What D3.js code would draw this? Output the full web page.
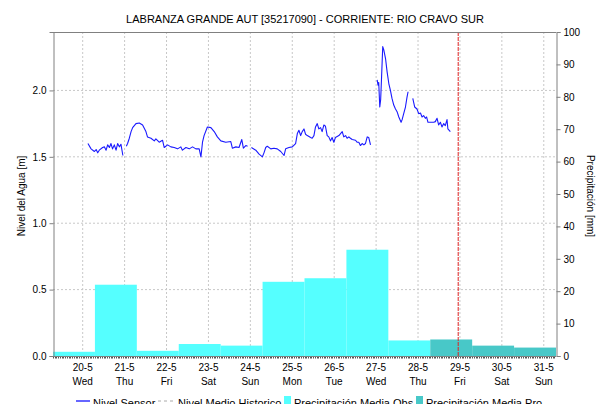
<!DOCTYPE html>
<html>
<head>
<meta charset="utf-8">
<script src="https://cdn.jsdelivr.net/npm/d3@7/dist/d3.min.js"></script>
<style>
  body { margin: 0; background: #fff; }
  svg { display: block; }
  text { font-family: "Liberation Sans", Arial, sans-serif; fill: #000; }
</style>
</head>
<body>
<svg id="chart" width="615" height="404"></svg>
<script>
// ---- data ----
const title = "LABRANZA GRANDE AUT [35217090] - CORRIENTE: RIO CRAVO SUR";
const dayDates = ["2020-05-20", "2020-05-21", "2020-05-22", "2020-05-23", "2020-05-24", "2020-05-25",
                  "2020-05-26", "2020-05-27", "2020-05-28", "2020-05-29", "2020-05-30", "2020-05-31"];
const dayLabels = ["20-5", "21-5", "22-5", "23-5", "24-5", "25-5", "26-5", "27-5", "28-5", "29-5", "30-5", "31-5"];
const weekdayLabels = ["Wed", "Thu", "Fri", "Sat", "Sun", "Mon", "Tue", "Wed", "Thu", "Fri", "Sat", "Sun"];
const levelTicks = [0, 0.5, 1.0, 1.5, 2.0];
const precipTicks = [0, 10, 20, 30, 40, 50, 60, 70, 80, 90, 100];

// daily precipitation (mm), hydrological day ending 07:00 of each date
const precipObs = [1.3, 22.0, 1.6, 3.7, 3.2, 22.9, 24.0, 32.8, 4.8, null, null, null];
const precipPro = [null, null, null, null, null, null, null, null, null, 5.1, 3.2, 2.6];

// sensor water level (m); hours counted from sensorStart, null marks a gap
const sensorStart = "2020-05-20T00:00";
const sensorHours = [
  3.0, 4.8, 6.7, 7.7, 8.6, 9.5, 11.4, 12.4, 13.4, 14.3, 15.3, 16.2, 17.1, 18.1, 19.1, 20.0, 21.0, 21.9, 23.0,
  24.0,
  25.0, 25.7, 26.7, 27.7, 28.6, 30.5, 32.4, 34.3, 36.2, 37.1, 39.1, 41.0, 41.9, 43.8, 45.7, 46.7, 48.6, 50.5,
  52.4, 54.3, 56.2, 57.1, 59.1, 61.0, 62.9, 64.8, 66.7, 67.7, 68.6, 69.5, 71.4, 73.4, 75.3, 77.1, 79.1, 81.9,
  84.8, 85.7, 87.7, 89.5, 91.1, 92.0, 93.4, 94.4,
  95.5,
  96.6, 99.1, 101.0, 102.9, 103.8, 104.8, 105.7, 107.7, 109.5, 111.4, 113.4, 115.3, 116.2, 118.1, 120.0, 121.9,
  122.9, 123.8, 124.8, 125.7, 126.7, 127.6, 128.6, 130.5, 131.4, 132.4, 133.3, 134.3, 135.2, 136.2, 137.1, 138.1,
  139.0, 140.0, 140.9, 141.9, 142.8, 143.8, 144.7, 146.7, 148.6, 149.5, 150.5, 151.4, 152.4, 153.3, 154.3, 156.2,
  157.1, 158.1, 159.0, 160.0, 161.0, 161.9, 162.9, 163.8, 164.8,
  168.0,
  168.6, 169.1, 169.5, 170.1, 170.6, 171.1, 171.8, 172.4, 173.4, 174.3, 175.3, 176.2, 177.1, 178.1, 179.1, 180.0,
  181.0, 182.3, 182.9, 183.8, 184.8, 185.7, 186.3,
  187.5,
  189.0, 190.1, 191.4, 192.4, 193.4, 194.3, 195.2, 196.2, 196.9, 197.7, 199.1, 201.0, 201.9, 202.9, 203.8, 204.8,
  205.7, 206.7, 207.6, 208.6, 209.1, 210.5
];
const sensorLevel = [
  1.60, 1.56, 1.54, 1.555, 1.53, 1.55, 1.57, 1.575, 1.55, 1.59, 1.57, 1.60, 1.56, 1.59, 1.55, 1.60, 1.575, 1.595, 1.51,
  null,
  1.58, 1.60, 1.64, 1.69, 1.72, 1.75, 1.755, 1.74, 1.69, 1.65, 1.64, 1.62, 1.635, 1.61, 1.625, 1.57, 1.59, 1.575,
  1.57, 1.56, 1.575, 1.55, 1.57, 1.56, 1.575, 1.56, 1.56, 1.50, 1.61, 1.66, 1.725, 1.72, 1.69, 1.65, 1.62, 1.61,
  1.615, 1.565, 1.575, 1.57, 1.63, 1.565, 1.585, 1.58,
  null,
  1.57, 1.55, 1.52, 1.50, 1.53, 1.57, 1.58, 1.56, 1.565, 1.56, 1.54, 1.51, 1.56, 1.57, 1.575, 1.60,
  1.675, 1.70, 1.66, 1.69, 1.71, 1.67, 1.66, 1.645, 1.64, 1.66, 1.725, 1.75, 1.71, 1.72, 1.69, 1.74,
  1.73, 1.66, 1.65, 1.62, 1.645, 1.61, 1.645, 1.66, 1.69, 1.65, 1.66, 1.64, 1.65, 1.64, 1.63, 1.625,
  1.61, 1.61, 1.585, 1.60, 1.59, 1.60, 1.65, 1.645, 1.59,
  null,
  2.08, 2.04, 2.06, 1.875, 1.93, 2.09, 2.33, 2.305, 2.24, 2.14, 2.05, 2.00, 1.94, 1.89, 1.86, 1.84,
  1.80, 1.76, 1.78, 1.825, 1.875, 1.95, 1.99,
  null,
  1.94, 1.875, 1.86, 1.825, 1.83, 1.80, 1.81, 1.79, 1.80, 1.76, 1.76, 1.76, 1.765, 1.79, 1.74, 1.76,
  1.725, 1.75, 1.735, 1.78, 1.71, 1.69
];
const historicLevel = [];          // no historic mean available for this period
const nowMark = "2020-05-28T23:00";
const xStart = "2020-05-19T07:00";
const xEnd = "2020-05-31T07:00";

// ---- layout ----
const W = 615, H = 404;
const plot = { left: 53, right: 556, top: 32, bottom: 356 };
const parse = d3.timeParse("%Y-%m-%dT%H:%M");
const parseDay = d3.timeParse("%Y-%m-%d");
const t0 = parse(sensorStart);

const x = d3.scaleTime().domain([parse(xStart), parse(xEnd)]).range([plot.left, plot.right]);
const yLevel = d3.scaleLinear().domain([0, 2.44]).range([plot.bottom, plot.top]);
const yPrecip = d3.scaleLinear().domain([0, 100]).range([plot.bottom, plot.top]);

const svg = d3.select("#chart");
const gridColor = "#c8c8c8";
const axisColor = "#808080";

// title
svg.append("text").attr("x", 305).attr("y", 23).attr("text-anchor", "middle")
  .style("font-size", "11px").text(title);

// grid lines
const days = dayDates.map(parseDay);
const grid = svg.append("g");
grid.selectAll("line.v").data(days).join("line")
  .attr("x1", d => x(d)).attr("x2", d => x(d))
  .attr("y1", plot.top).attr("y2", plot.bottom)
  .attr("stroke", gridColor).attr("stroke-dasharray", "2,2");
grid.selectAll("line.h").data(levelTicks.filter(d => d > 0)).join("line")
  .attr("x1", plot.left).attr("x2", plot.right)
  .attr("y1", d => yLevel(d)).attr("y2", d => yLevel(d))
  .attr("stroke", gridColor).attr("stroke-dasharray", "2,2");

// precipitation bars (07:00 previous day -> 07:00 of the date)
const barSpan = d => {
  const end = d3.timeHour.offset(parseDay(d), 7);
  return [d3.timeDay.offset(end, -1), end];
};
const bars = svg.append("g");
function drawBars(values, color) {
  const rows = dayDates.map((d, i) => ({ d, v: values[i] })).filter(r => r.v != null);
  bars.selectAll(null).data(rows).join("rect")
    .attr("x", r => x(barSpan(r.d)[0]))
    .attr("width", r => x(barSpan(r.d)[1]) - x(barSpan(r.d)[0]))
    .attr("y", r => yPrecip(r.v))
    .attr("height", r => yPrecip(0) - yPrecip(r.v))
    .attr("fill", color);
}
drawBars(precipObs, "#55ffff");
drawBars(precipPro, "#48c8c8");

// sensor level line
const sensor = sensorHours.map((h, i) => ({ t: d3.timeMinute.offset(t0, Math.round(h * 60)), v: sensorLevel[i] }));
const line = d3.line().defined(d => d.v != null).x(d => x(d.t)).y(d => yLevel(d.v));
svg.append("path").datum(sensor).attr("d", line)
  .attr("fill", "none").attr("stroke", "#1a1aff").attr("stroke-width", 1.1).attr("stroke-linejoin", "round");

// historic mean level (dashed grey)
svg.append("path").datum(historicLevel).attr("d", line)
  .attr("fill", "none").attr("stroke", "#aaaaaa").attr("stroke-dasharray", "3,3");

// current-time marker
svg.append("line")
  .attr("x1", x(parse(nowMark))).attr("x2", x(parse(nowMark)))
  .attr("y1", plot.top).attr("y2", plot.bottom)
  .attr("stroke", "#e02020").attr("stroke-dasharray", "4,1");

// frame
svg.append("line").attr("x1", plot.left).attr("x2", plot.right).attr("y1", plot.top + 0.5).attr("y2", plot.top + 0.5).attr("stroke", axisColor);

// left axis
const leftAxis = d3.axisLeft(yLevel).tickValues(levelTicks).tickFormat(d3.format(".1f")).tickSize(4).tickPadding(3);
const gl = svg.append("g").attr("transform", `translate(${plot.left + 0.5},0)`).call(leftAxis);
// right axis
const rightAxis = d3.axisRight(yPrecip).tickValues(precipTicks).tickSize(4).tickPadding(3);
const gr = svg.append("g").attr("transform", `translate(${plot.right + 0.5},0)`).call(rightAxis);
// bottom axis with hourly minor ticks
const hours = d3.timeHour.range(parse(xStart), parse(xEnd));
const gb = svg.append("g").attr("transform", `translate(0,${plot.bottom + 0.5})`);
gb.selectAll("line.minor").data(hours).join("line")
  .attr("x1", d => Math.round(x(d)) + 0.5).attr("x2", d => Math.round(x(d)) + 0.5)
  .attr("y1", 0).attr("y2", 2).attr("stroke", "#555");
gb.append("line").attr("x1", plot.left).attr("x2", plot.right).attr("stroke", axisColor);
gb.selectAll("text.d").data(days).join("text")
  .attr("x", d => x(d)).attr("y", 14).attr("text-anchor", "middle")
  .style("font-size", "10px").text((d, i) => dayLabels[i]);
gb.selectAll("text.w").data(days).join("text")
  .attr("x", d => x(d)).attr("y", 28).attr("text-anchor", "middle")
  .style("font-size", "10px").text((d, i) => weekdayLabels[i]);

[gl, gr].forEach(g => {
  g.select(".domain").attr("stroke", axisColor);
  g.selectAll(".tick line").attr("stroke", axisColor);
  g.selectAll(".tick text").style("font-size", "10px").attr("fill", "#000");
});

// axis titles
svg.append("text").attr("transform", `translate(25,${(plot.top + plot.bottom) / 2 + 2}) rotate(-90)`)
  .attr("text-anchor", "middle").style("font-size", "10px").text("Nivel del Agua [m]");
svg.append("text").attr("transform", `translate(587,${(plot.top + plot.bottom) / 2 + 2}) rotate(90)`)
  .attr("text-anchor", "middle").style("font-size", "10px").text("Precipitación [mm]");

// legend
const lg = svg.append("g").style("font-size", "11px");
const ly = 401;
lg.append("line").attr("x1", 76).attr("x2", 90).attr("y1", ly).attr("y2", ly).attr("stroke", "#0000ff").attr("stroke-width", 1.2);
lg.append("text").attr("x", 93).attr("y", ly + 6).text("Nivel Sensor");
lg.append("line").attr("x1", 158).attr("x2", 174).attr("y1", ly).attr("y2", ly).attr("stroke", "#aaaaaa").attr("stroke-dasharray", "3,3");
lg.append("text").attr("x", 178).attr("y", ly + 6).text("Nivel Medio Historico");
lg.append("rect").attr("x", 284).attr("y", 396).attr("width", 7).attr("height", 10).attr("fill", "#55ffff");
lg.append("text").attr("x", 294).attr("y", ly + 6).text("Precipitación Media Obs");
lg.append("rect").attr("x", 416).attr("y", 396).attr("width", 7).attr("height", 10).attr("fill", "#48c8c8");
lg.append("text").attr("x", 426).attr("y", ly + 6).text("Precipitación Media Pro");
</script>
</body>
</html>
